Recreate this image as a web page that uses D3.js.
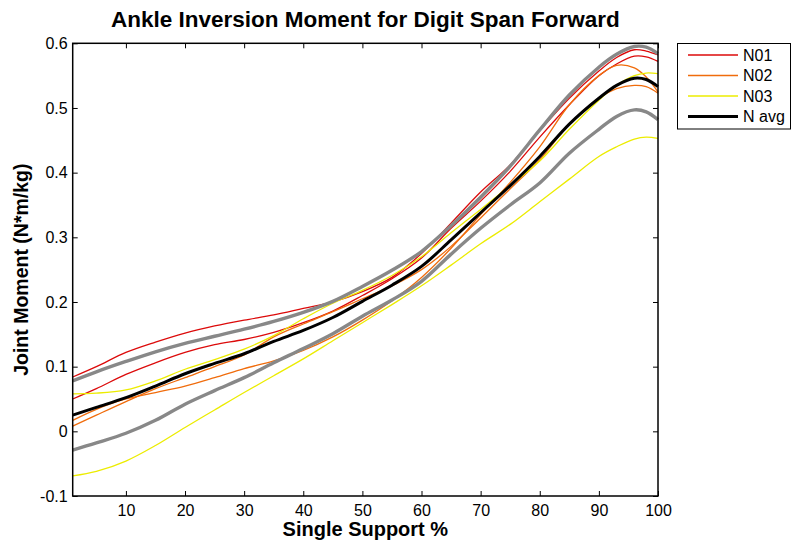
<!DOCTYPE html>
<html>
<head>
<meta charset="utf-8">
<script src="https://cdn.jsdelivr.net/npm/d3@7"></script>
<style>
  html, body { margin: 0; padding: 0; background: #fff; }
  svg { display: block; font-family: "Liberation Sans", Arial, Helvetica, sans-serif; }
</style>
</head>
<body>
<svg id="chart" width="791" height="543"></svg>
<script>
// Percent of single support at which each curve is sampled
const support = [1, 5, 10, 15, 20, 25, 30, 35, 40, 45, 50, 55, 60, 65, 70, 75, 80, 85, 90, 93, 96, 98, 100];

// Subject N01 (two trials)
const n01a = [0.084, 0.100, 0.122, 0.138, 0.152, 0.163, 0.172, 0.180, 0.190, 0.200, 0.216, 0.238, 0.275, 0.322, 0.370, 0.412, 0.465, 0.515, 0.557, 0.578, 0.590, 0.588, 0.582];
const n01b = [0.050, 0.066, 0.088, 0.106, 0.122, 0.134, 0.142, 0.153, 0.168, 0.186, 0.210, 0.236, 0.268, 0.314, 0.356, 0.402, 0.455, 0.505, 0.550, 0.568, 0.580, 0.579, 0.572];
// Subject N02 (two trials)
const n02a = [0.008, 0.025, 0.046, 0.066, 0.083, 0.100, 0.118, 0.146, 0.166, 0.185, 0.205, 0.225, 0.250, 0.286, 0.330, 0.375, 0.420, 0.475, 0.515, 0.530, 0.535, 0.533, 0.523];
const n02b = [0.017, 0.034, 0.050, 0.060, 0.070, 0.083, 0.097, 0.109, 0.125, 0.146, 0.172, 0.202, 0.238, 0.283, 0.335, 0.385, 0.440, 0.505, 0.550, 0.566, 0.562, 0.548, 0.525];
// Subject N03 (two trials)
const n03a = [0.058, 0.059, 0.064, 0.078, 0.096, 0.111, 0.127, 0.148, 0.174, 0.198, 0.218, 0.241, 0.270, 0.307, 0.343, 0.380, 0.418, 0.467, 0.512, 0.535, 0.550, 0.554, 0.553];
const n03b = [-0.069, -0.062, -0.046, -0.022, 0.006, 0.033, 0.060, 0.086, 0.112, 0.140, 0.168, 0.196, 0.225, 0.257, 0.290, 0.320, 0.355, 0.390, 0.425, 0.440, 0.452, 0.455, 0.453];
// Group average and the ±1 SD band
const navg = [0.025, 0.037, 0.052, 0.070, 0.089, 0.105, 0.120, 0.139, 0.156, 0.176, 0.201, 0.226, 0.255, 0.296, 0.338, 0.380, 0.425, 0.475, 0.515, 0.535, 0.546, 0.544, 0.533];
const sdUpper = [0.078, 0.092, 0.108, 0.123, 0.136, 0.147, 0.158, 0.170, 0.184, 0.201, 0.224, 0.249, 0.278, 0.318, 0.362, 0.410, 0.466, 0.520, 0.563, 0.583, 0.595, 0.594, 0.584];
const sdLower = [-0.029, -0.018, -0.003, 0.017, 0.042, 0.063, 0.083, 0.106, 0.128, 0.151, 0.178, 0.203, 0.232, 0.274, 0.314, 0.350, 0.384, 0.430, 0.467, 0.487, 0.497, 0.494, 0.482];

const xTicks = [10, 20, 30, 40, 50, 60, 70, 80, 90, 100];
const yTicks = [-0.1, 0, 0.1, 0.2, 0.3, 0.4, 0.5, 0.6];

const legendNames = ["N01", "N02", "N03", "N avg"];

const RED = "#dc0a0a", ORANGE = "#f06c0c", YELLOW = "#ecec00", GRAY = "#888888", BLACK = "#000000";

const svg = d3.select("#chart");
const mLeft = 72.7, mRight = 658, mTop = 43.3, mBottom = 496;

const x = d3.scaleLinear().domain([1, 100]).range([mLeft, mRight]);
const y = d3.scaleLinear().domain([-0.1, 0.6]).range([mBottom, mTop]);

const line = d3.line()
  .x((d, i) => x(support[i]))
  .y(d => y(d))
  .curve(d3.curveCatmullRom.alpha(0.5));

const plot = svg.append("g");

const series = [
  { v: n01a, c: RED, w: 1.3 },
  { v: n01b, c: RED, w: 1.3 },
  { v: n02a, c: ORANGE, w: 1.3 },
  { v: n02b, c: ORANGE, w: 1.3 },
  { v: n03a, c: YELLOW, w: 1.3 },
  { v: n03b, c: YELLOW, w: 1.3 },
  { v: sdUpper, c: GRAY, w: 3.4 },
  { v: sdLower, c: GRAY, w: 3.4 },
  { v: navg, c: BLACK, w: 3 }
];

plot.selectAll("path.series")
  .data(series)
  .join("path")
  .attr("class", "series")
  .attr("d", d => line(d.v))
  .attr("fill", "none")
  .attr("stroke", d => d.c)
  .attr("stroke-width", d => d.w)
  .attr("stroke-linejoin", "round");

// Axes: ticks point inward on all four sides
const tickLen = 5;
const axB = svg.append("g").attr("transform", `translate(0,${mBottom})`)
  .call(d3.axisBottom(x).tickValues(xTicks).tickSize(-tickLen).tickPadding(9).tickFormat(d => String(d)));
const axT = svg.append("g").attr("transform", `translate(0,${mTop})`)
  .call(d3.axisTop(x).tickValues(xTicks).tickSize(-tickLen).tickFormat(""));
const axL = svg.append("g").attr("transform", `translate(${mLeft},0)`)
  .call(d3.axisLeft(y).tickValues(yTicks).tickSize(-tickLen).tickPadding(5).tickFormat(d => d === 0 ? "0" : d.toFixed(1)));
const axR = svg.append("g").attr("transform", `translate(${mRight},0)`)
  .call(d3.axisRight(y).tickValues(yTicks).tickSize(-tickLen).tickFormat(""));

[axB, axT, axL, axR].forEach(g => {
  g.select(".domain").remove();
  g.selectAll(".tick line").attr("stroke", "#000").attr("stroke-width", 1);
  g.selectAll("text").attr("fill", "#000").style("font-size", "16px")
    .style("font-family", '"Liberation Sans", Arial, sans-serif');
});

svg.append("rect")
  .attr("x", mLeft).attr("y", mTop)
  .attr("width", mRight - mLeft).attr("height", mBottom - mTop)
  .attr("fill", "none").attr("stroke", "#000").attr("stroke-width", 1.5);

// Titles
svg.append("text")
  .attr("x", (mLeft + mRight) / 2).attr("y", 27)
  .attr("text-anchor", "middle")
  .style("font-size", "22.5px").style("font-weight", "bold")
  .text("Ankle Inversion Moment for Digit Span Forward");

svg.append("text")
  .attr("x", (mLeft + mRight) / 2).attr("y", 536)
  .attr("text-anchor", "middle")
  .style("font-size", "20px").style("font-weight", "bold")
  .text("Single Support %");

svg.append("text")
  .attr("transform", `translate(28,${(mTop + mBottom) / 2}) rotate(-90)`)
  .attr("text-anchor", "middle")
  .style("font-size", "19.5px").style("font-weight", "bold")
  .text("Joint Moment (N*m/kg)");

// Legend
const legend = svg.append("g");
legend.append("rect")
  .attr("x", 677.5).attr("y", 43.5).attr("width", 113).attr("height", 85.5)
  .attr("fill", "#fff").attr("stroke", "#000").attr("stroke-width", 1);
const legendColors = [RED, ORANGE, YELLOW, BLACK];
const legendWidths = [1.3, 1.3, 1.3, 3];
const ly = d3.scalePoint().domain(legendNames).range([55, 116.5]);
legendNames.forEach((name, i) => {
  legend.append("line")
    .attr("x1", 688).attr("x2", 738)
    .attr("y1", ly(name)).attr("y2", ly(name))
    .attr("stroke", legendColors[i]).attr("stroke-width", legendWidths[i]);
  legend.append("text")
    .attr("x", 743).attr("y", ly(name) + 5.5)
    .style("font-size", "16px")
    .text(name);
});
</script>
</body>
</html>
